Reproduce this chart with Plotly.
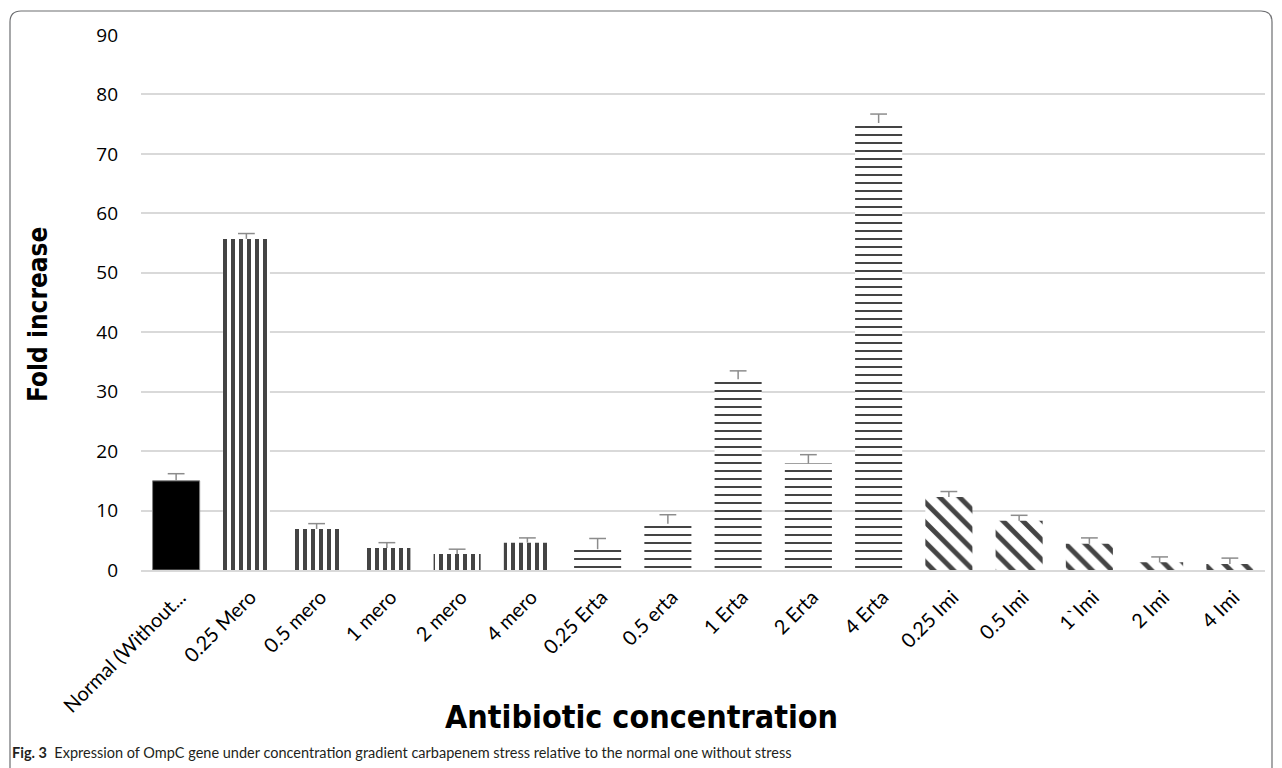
import plotly.graph_objects as go

categories = ["Normal (Without...", "0.25 Mero", "0.5 mero", "1 mero", "2 mero", "4 mero",
              "0.25 Erta", "0.5 erta", "1 Erta", "2 Erta", "4 Erta",
              "0.25 Imi", "0.5 Imi", "1`Imi", "2 Imi", "4 Imi"]
values = [15.0, 55.7, 6.9, 3.7, 2.7, 4.6, 3.5, 7.8, 32.1, 17.9, 75.2, 12.3, 8.3, 4.4, 1.3, 1.0]
errors = [1.2, 0.9, 0.9, 0.9, 0.8, 0.8, 1.8, 1.5, 1.4, 1.5, 1.5, 0.9, 0.9, 1.0, 0.9, 1.0]
groups = ["none", "mero", "mero", "mero", "mero", "mero",
          "erta", "erta", "erta", "erta", "erta",
          "imi", "imi", "imi", "imi", "imi"]
y_ticks = [0, 10, 20, 30, 40, 50, 60, 70, 80, 90]

OFF = 8  # page body margin
SW, SH = 1282, 768
W, H = SW - OFF, SH - OFF
# plot area in screen pixels
S_L, S_R, S_T, S_B = 141, 1265, 35, 570
L, R, T, B = S_L - OFF, W - (S_R - OFF), S_T - OFF, H - (S_B - OFF)
PW, PH = W - L - R, H - T - B

def px(x):
    return (x - OFF - L) / PW

def py(y):
    return (S_B - y) / PH

shape_map = {"none": "", "mero": "|", "erta": "-", "imi": "\\"}
size_map = {"none": 8, "mero": 8, "erta": 8, "imi": 14}
sol_map = {"none": 0.3, "mero": 0.5, "erta": 0.25, "imi": 0.35}

fig = go.Figure()
fig.add_trace(go.Bar(
    x=categories, y=values,
    marker=dict(
        color=["black" if g == "none" else "white" for g in groups],
        line=dict(color=["#7f7f7f" if g == "none" else "rgba(0,0,0,0)" for g in groups], width=1),
        pattern=dict(
            shape=[shape_map[g] for g in groups],
            size=[size_map[g] for g in groups],
            solidity=[sol_map[g] for g in groups],
            fgcolor="black", bgcolor="white", fgopacity=1, fillmode="overlay"),
    ),
    width=0.67,
    showlegend=False,
    hoverinfo="x+y",
))

# positive-only error bars (stem + top cap)
stem_x, stem_y = [], []
tops = []
for c, v, e in zip(categories, values, errors):
    stem_x += [c, c, None]
    stem_y += [v, v + e, None]
    tops.append(v + e)
fig.add_trace(go.Scatter(
    x=stem_x, y=stem_y, mode="lines", line=dict(color="#8c8c8c", width=1.5),
    showlegend=False, hoverinfo="skip",
))
fig.add_trace(go.Scatter(
    x=categories, y=tops, mode="markers",
    marker=dict(symbol="line-ew", size=12, line=dict(color="#8c8c8c", width=1.5)),
    showlegend=False, hoverinfo="skip",
))

fig.update_layout(
    width=W, height=H,
    margin=dict(l=L, r=R, t=T, b=B),
    paper_bgcolor="white", plot_bgcolor="white",
    font=dict(family="Lato", color="black"),
    xaxis=dict(
        tickangle=-45, tickfont=dict(family="Lato", size=20, color="black"),
        showgrid=False, showline=True, linecolor="#d9d9d9", linewidth=1.5,
        ticks="", range=[-0.5, 15.5], ticklabelstandoff=6, ticklabelshift=4,
    ),
    yaxis=dict(
        range=[0, 90], tickvals=y_ticks, showgrid=True, gridcolor="#d9d9d9", gridwidth=1.5,
        zeroline=False, tickfont=dict(family="Open Sans", size=19, color="black"),
        ticks="", ticklabelstandoff=22, showline=False,
    ),
    annotations=[
        dict(x=px(38), y=py(315), xref="paper", yref="paper", text="<b>Fold increase</b>",
             textangle=-90, showarrow=False, font=dict(family="DejaVu Sans Condensed", size=26, color="black"),
             xanchor="center", yanchor="middle"),
        dict(x=px(641), y=py(717), xref="paper", yref="paper", text="<b>Antibiotic concentration</b>",
             showarrow=False, font=dict(family="DejaVu Sans Condensed", size=32, color="black"),
             xanchor="center", yanchor="middle"),
        dict(x=px(10), y=py(752), xref="paper", yref="paper",
             text="<b>Fig. 3</b>  Expression of OmpC gene under concentration gradient carbapenem stress relative to the normal one without stress",
             showarrow=False, font=dict(family="Lato", size=14.5, color="#231f20"),
             xanchor="left", yanchor="middle"),
    ],
    shapes=[
        dict(type="path", xref="paper", yref="paper",
             path=(f"M {px(10)},{py(780)} L {px(10)},{py(22)} Q {px(10)},{py(11)} {px(21)},{py(11)} "
                   f"L {px(1261)},{py(11)} Q {px(1272)},{py(11)} {px(1272)},{py(22)} L {px(1272)},{py(780)}"),
             line=dict(color="#6d6e71", width=1.2)),
    ],
)

fig.write_html("out.html")
